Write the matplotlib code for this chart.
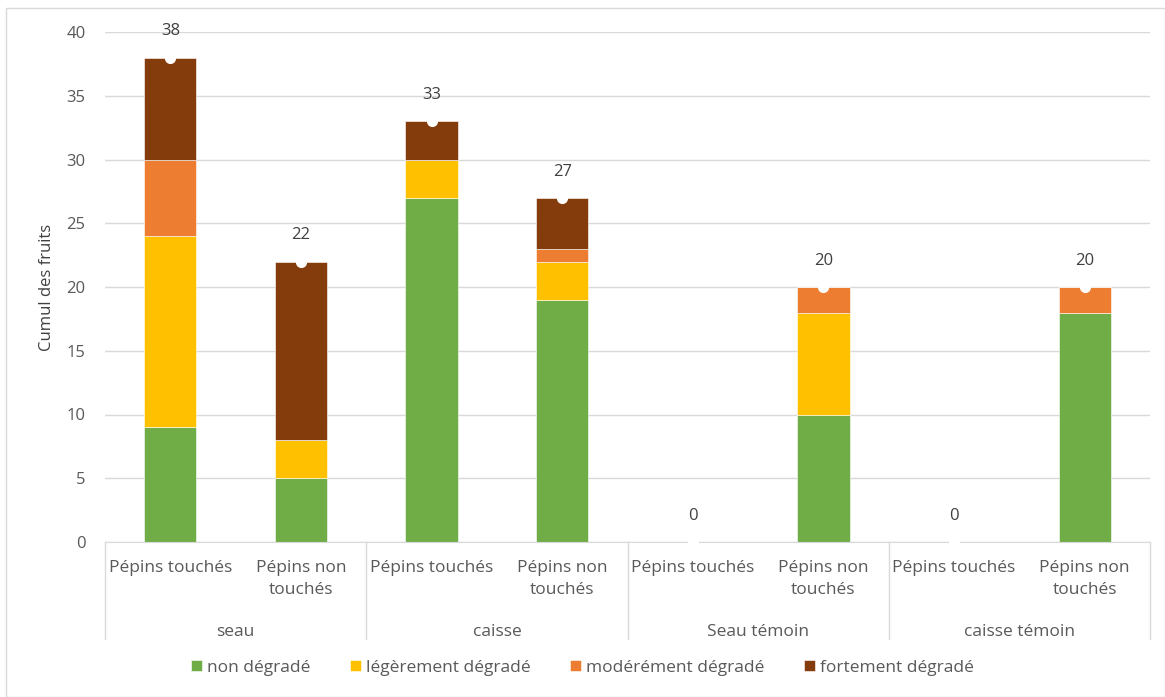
import matplotlib.pyplot as plt
from matplotlib.patches import Rectangle
import numpy as np

plt.rcParams['font.family'] = ['Open Sans', 'DejaVu Sans']

groupes = ["seau", "caisse", "Seau témoin", "caisse témoin"]
sous_cat = ["Pépins touchés", "Pépins non\ntouchés"]

non_degrade = [9, 5, 27, 19, 0, 10, 0, 18]
legerement = [15, 3, 3, 3, 0, 8, 0, 0]
moderement = [6, 0, 0, 1, 0, 2, 0, 2]
fortement = [8, 14, 3, 4, 0, 0, 0, 0]

series = [
    ("non dégradé", non_degrade, "#70ad47"),
    ("légèrement dégradé", legerement, "#ffc000"),
    ("modérément dégradé", moderement, "#ed7d31"),
    ("fortement dégradé", fortement, "#843c0c"),
]

W, H = 1165, 697
fig = plt.figure(figsize=(W / 100, H / 100), dpi=100)
ax = fig.add_axes([105 / W, 1 - 542 / H, (1150 - 105) / W, (542 - 32) / H])

x = np.arange(len(non_degrade))
bas = np.zeros(len(x))
for nom, vals, couleur in series:
    ax.bar(x, vals, 0.4, bottom=bas, color=couleur, label=nom, zorder=2,
           edgecolor="white", linewidth=0.4)
    bas += np.array(vals)

# totaux : points blancs + étiquettes
totaux = bas
ax.plot(x, totaux, linestyle="none", marker="o", markersize=7,
        markerfacecolor="white", markeredgecolor="white", zorder=5, clip_on=False)
for xi, t in zip(x, totaux):
    ax.annotate(f"{int(t)}", (xi, t), xytext=(0, 13), textcoords="offset points",
                ha="center", va="bottom", fontsize=12, color="#404040")

ax.set_xlim(-0.5, len(x) - 0.5)
ax.set_ylim(0, 40)
ax.set_yticks(range(0, 41, 5))
ax.tick_params(axis="y", length=0, labelsize=12, labelcolor="#595959", pad=14)
ax.set_xticks([])
ax.grid(axis="y", color="#d9d9d9", linewidth=1, zorder=0)
for s in ["top", "right", "left"]:
    ax.spines[s].set_visible(False)
ax.spines["bottom"].set_color("#d9d9d9")
ax.spines["bottom"].set_zorder(3)
ax.set_ylabel("Cumul des fruits", fontsize=12, color="#404040", labelpad=8)

# étiquettes de catégories à deux niveaux
trans = ax.get_xaxis_transform()
for i in range(len(x)):
    ax.text(i, -0.035, sous_cat[i % 2], transform=trans, ha="center", va="top",
            fontsize=12.5, color="#595959", linespacing=1.5)
for g, nom in enumerate(groupes):
    ax.text(2 * g + 0.5, -0.16, nom, transform=trans, ha="center", va="top",
            fontsize=12.5, color="#595959")
for b in range(len(groupes) + 1):
    ax.plot([2 * b - 0.5] * 2, [0, -0.19], transform=trans, color="#d9d9d9",
            linewidth=1, clip_on=False)

ax.legend(loc="center", bbox_to_anchor=(0.5, (H - 668) / H), bbox_transform=fig.transFigure,
          ncol=4, frameon=False, fontsize=12.5, handlelength=0.6, handleheight=0.6,
          handletextpad=0.3, columnspacing=2.3, labelcolor="#595959")

fig.patches.append(Rectangle((6 / W, 0), 1 - 6 / W, 1 - 8 / H, transform=fig.transFigure,
                             fill=False, edgecolor="#d9d9d9", linewidth=1))

fig.savefig("out.png", dpi=100)
